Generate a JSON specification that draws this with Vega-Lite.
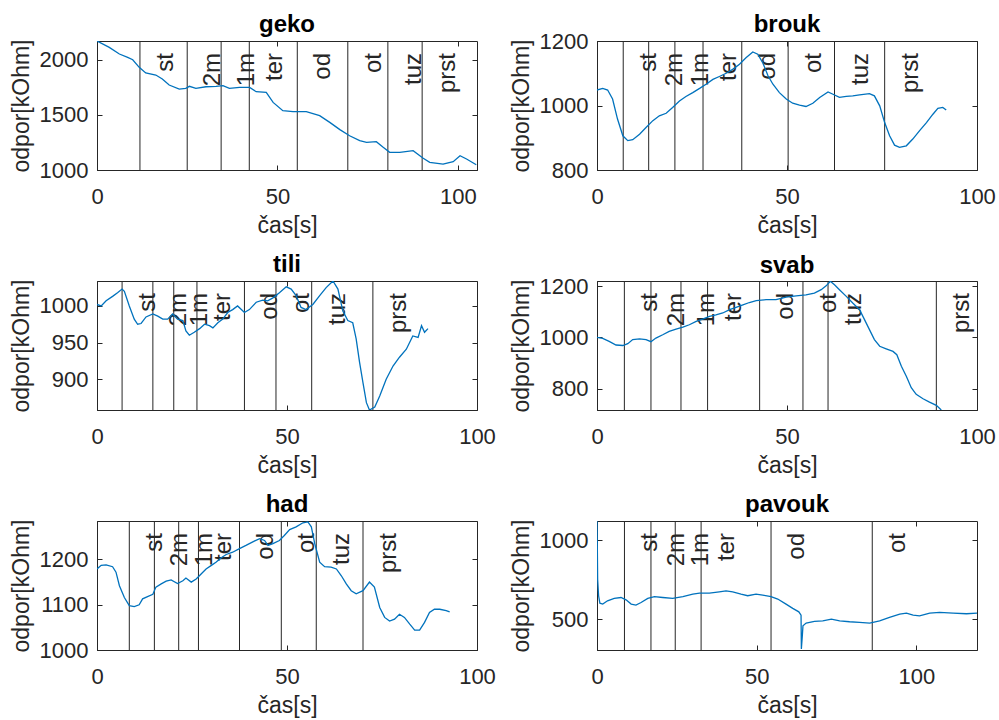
{
  "$schema": "https://vega.github.io/schema/vega-lite/v6.json",
  "autosize": {"type": "none"},
  "padding": {"left": 97, "top": 41, "right": 902, "bottom": 679},
  "background": "white",
  "config": {
    "view": {"stroke": "#262626", "strokeWidth": 1},
    "font": "Liberation Sans",
    "axis": {"grid": false, "labelFont": "Liberation Sans", "labelFontSize": 22, "labelColor": "#262626", "titleFont": "Liberation Sans", "titleFontSize": 23, "titleFontWeight": "normal", "titleColor": "#262626", "domainColor": "#262626", "tickColor": "#262626", "tickSize": -5, "labelOverlap": false, "labelFlush": false, "format": "d"},
    "axisX": {"labelPadding": 21, "titlePadding": 7},
    "axisY": {"labelPadding": 14, "titlePadding": 6},
    "title": {"font": "Liberation Sans", "fontSize": 24, "fontWeight": "bold", "color": "#000000", "offset": 2}
  },
  "datasets": {
    "geko": [{"t":0,"r":2170},{"t":3.4,"r":2112},{"t":6.2,"r":2052},{"t":8.5,"r":2022},{"t":9.9,"r":2000},{"t":11.7,"r":1931},{"t":13.5,"r":1880},{"t":16.3,"r":1861},{"t":18.1,"r":1825},{"t":20,"r":1771},{"t":22.8,"r":1734},{"t":24.6,"r":1740},{"t":25.6,"r":1759},{"t":27.4,"r":1740},{"t":30.2,"r":1755},{"t":33,"r":1759},{"t":34.9,"r":1766},{"t":36.7,"r":1740},{"t":39.5,"r":1749},{"t":42.3,"r":1749},{"t":44.1,"r":1710},{"t":46.9,"r":1704},{"t":48.8,"r":1613},{"t":51.5,"r":1538},{"t":54.3,"r":1529},{"t":58,"r":1529},{"t":61.7,"r":1493},{"t":64.5,"r":1432},{"t":67.3,"r":1366},{"t":70,"r":1311},{"t":72.8,"r":1266},{"t":74.7,"r":1251},{"t":77.4,"r":1257},{"t":79.3,"r":1206},{"t":81.1,"r":1160},{"t":83.9,"r":1160},{"t":87.6,"r":1175},{"t":90.4,"r":1106},{"t":92.2,"r":1070},{"t":95.9,"r":1054},{"t":98.7,"r":1075},{"t":100.6,"r":1130},{"t":102.4,"r":1100},{"t":105.1,"r":1048}],
    "geko_lines": [{"t":11.9,"label":"st"},{"t":25.0,"label":"2m"},{"t":34.4,"label":"1m"},{"t":42.2,"label":"ter"},{"t":55.5,"label":"od"},{"t":69.5,"label":"ot"},{"t":80.6,"label":"tuz"},{"t":90.1,"label":"prst"}],
    "brouk": [{"t":0,"r":1048},{"t":1.5,"r":1053},{"t":2.8,"r":1048},{"t":4.1,"r":1020},{"t":5.4,"r":958},{"t":6.8,"r":906},{"t":8.1,"r":891},{"t":9.4,"r":894},{"t":11.2,"r":911},{"t":12.9,"r":932},{"t":14.7,"r":953},{"t":16.4,"r":968},{"t":18.2,"r":976},{"t":19.9,"r":994},{"t":21.7,"r":1014},{"t":23.4,"r":1028},{"t":25.2,"r":1040},{"t":27,"r":1053},{"t":28.7,"r":1066},{"t":30.5,"r":1081},{"t":32.2,"r":1090},{"t":34,"r":1100},{"t":35.7,"r":1112},{"t":37.5,"r":1128},{"t":39.2,"r":1148},{"t":41,"r":1166},{"t":42.3,"r":1159},{"t":43.6,"r":1133},{"t":45,"r":1092},{"t":46.3,"r":1066},{"t":48,"r":1040},{"t":49.8,"r":1020},{"t":51.5,"r":1007},{"t":53.3,"r":1001},{"t":55,"r":997},{"t":56.8,"r":1007},{"t":58.6,"r":1025},{"t":60.8,"r":1042},{"t":62.1,"r":1035},{"t":63.8,"r":1025},{"t":65.6,"r":1028},{"t":67.3,"r":1030},{"t":69.1,"r":1033},{"t":71.7,"r":1037},{"t":73,"r":1030},{"t":74.4,"r":999},{"t":75.7,"r":947},{"t":77,"r":906},{"t":78.3,"r":877},{"t":79.6,"r":870},{"t":81.4,"r":875},{"t":83.1,"r":896},{"t":84.9,"r":922},{"t":86.7,"r":947},{"t":88.4,"r":973},{"t":89.7,"r":991},{"t":91,"r":994},{"t":91.9,"r":986}],
    "brouk_lines": [{"t":6.9,"label":"st"},{"t":13.6,"label":"2m"},{"t":20.5,"label":"1m"},{"t":27.9,"label":"ter"},{"t":38.1,"label":"od"},{"t":50.3,"label":"ot"},{"t":62.5,"label":"tuz"},{"t":75.7,"label":"prst"}],
    "tili": [{"t":0,"r":1002},{"t":1.1,"r":1000},{"t":2.4,"r":1007},{"t":4.1,"r":1013},{"t":5.4,"r":1018},{"t":6.6,"r":1023},{"t":7.2,"r":1020},{"t":8.5,"r":1000},{"t":9.8,"r":982},{"t":10.7,"r":975},{"t":11.6,"r":976},{"t":12.9,"r":985},{"t":14.7,"r":989},{"t":16,"r":986},{"t":17.3,"r":982},{"t":18.6,"r":982},{"t":19.9,"r":989},{"t":21.2,"r":982},{"t":22.6,"r":980},{"t":23.4,"r":966},{"t":24.3,"r":960},{"t":25.6,"r":964},{"t":27,"r":969},{"t":28.3,"r":975},{"t":29.6,"r":973},{"t":30.5,"r":970},{"t":31.8,"r":977},{"t":33.1,"r":982},{"t":34.4,"r":991},{"t":35.7,"r":995},{"t":37,"r":1000},{"t":38.8,"r":991},{"t":40.1,"r":995},{"t":41.9,"r":1005},{"t":43.6,"r":1008},{"t":44.9,"r":1007},{"t":46.3,"r":1011},{"t":48,"r":1018},{"t":49.8,"r":1026},{"t":51.1,"r":1023},{"t":52.4,"r":1014},{"t":53.7,"r":998},{"t":55,"r":995},{"t":56.8,"r":1002},{"t":58.6,"r":1014},{"t":60.3,"r":1025},{"t":62.1,"r":1034},{"t":63.4,"r":1023},{"t":64.7,"r":993},{"t":66,"r":980},{"t":67.3,"r":977},{"t":68.2,"r":955},{"t":69.1,"r":923},{"t":70,"r":895},{"t":70.9,"r":868},{"t":71.7,"r":858},{"t":73.1,"r":862},{"t":74.4,"r":877},{"t":76.1,"r":900},{"t":77.9,"r":918},{"t":79.6,"r":930},{"t":81.4,"r":941},{"t":83.1,"r":959},{"t":84.5,"r":957},{"t":85.4,"r":973},{"t":86.2,"r":964},{"t":87.1,"r":969}],
    "tili_lines": [{"t":6.6,"label":"st"},{"t":14.7,"label":"2m"},{"t":20.2,"label":"1m"},{"t":26.3,"label":"ter"},{"t":38.8,"label":"od"},{"t":47.1,"label":"ot"},{"t":56.5,"label":"tuz"},{"t":72.6,"label":"prst"}],
    "svab": [{"t":0,"r":1000},{"t":1.5,"r":996},{"t":3.2,"r":984},{"t":5,"r":970},{"t":6.8,"r":968},{"t":8.1,"r":975},{"t":9.4,"r":991},{"t":11.2,"r":994},{"t":12.9,"r":991},{"t":14.2,"r":983},{"t":15.5,"r":997},{"t":17.3,"r":1010},{"t":19,"r":1023},{"t":20.8,"r":1032},{"t":22.6,"r":1040},{"t":24.3,"r":1049},{"t":26.1,"r":1062},{"t":27.8,"r":1071},{"t":29.6,"r":1082},{"t":31.3,"r":1088},{"t":33.1,"r":1095},{"t":34.9,"r":1108},{"t":36.6,"r":1117},{"t":38.4,"r":1127},{"t":40.1,"r":1136},{"t":41.9,"r":1143},{"t":44.5,"r":1147},{"t":47.1,"r":1147},{"t":49.8,"r":1157},{"t":52.4,"r":1162},{"t":55,"r":1166},{"t":57.2,"r":1173},{"t":59,"r":1186},{"t":60.3,"r":1201},{"t":61.4,"r":1219},{"t":62.5,"r":1205},{"t":63.8,"r":1186},{"t":65.6,"r":1160},{"t":67.3,"r":1134},{"t":69.1,"r":1108},{"t":70.4,"r":1069},{"t":71.7,"r":1030},{"t":73,"r":991},{"t":74.4,"r":965},{"t":76.1,"r":955},{"t":77.9,"r":945},{"t":78.9,"r":932},{"t":80.1,"r":887},{"t":81.4,"r":848},{"t":82.7,"r":803},{"t":84,"r":777},{"t":85.8,"r":760},{"t":87.5,"r":747},{"t":89.3,"r":734},{"t":90.6,"r":716}],
    "svab_lines": [{"t":7.2,"label":"st"},{"t":14.2,"label":"2m"},{"t":22.1,"label":"1m"},{"t":29.1,"label":"ter"},{"t":42.8,"label":"od"},{"t":54.2,"label":"ot"},{"t":60.8,"label":"tuz"},{"t":89.3,"label":"prst"}],
    "had": [{"t":0,"r":1179},{"t":1.1,"r":1187},{"t":2.4,"r":1188},{"t":4.1,"r":1184},{"t":5,"r":1172},{"t":5.9,"r":1142},{"t":7.2,"r":1116},{"t":8.5,"r":1098},{"t":9.8,"r":1096},{"t":11.1,"r":1100},{"t":12,"r":1113},{"t":13.3,"r":1118},{"t":14.7,"r":1123},{"t":15.5,"r":1139},{"t":16.9,"r":1146},{"t":18.2,"r":1152},{"t":19.5,"r":1155},{"t":21.2,"r":1147},{"t":22.6,"r":1153},{"t":23.4,"r":1159},{"t":24.8,"r":1150},{"t":26.1,"r":1157},{"t":27.4,"r":1168},{"t":28.7,"r":1179},{"t":30.1,"r":1187},{"t":31.3,"r":1194},{"t":32.7,"r":1204},{"t":34,"r":1211},{"t":35.7,"r":1216},{"t":37.5,"r":1224},{"t":39.2,"r":1231},{"t":41,"r":1239},{"t":42.8,"r":1246},{"t":44.1,"r":1242},{"t":45,"r":1231},{"t":46.3,"r":1235},{"t":48,"r":1242},{"t":49.3,"r":1253},{"t":50.7,"r":1266},{"t":52.4,"r":1272},{"t":54.2,"r":1281},{"t":55.5,"r":1283},{"t":56.4,"r":1272},{"t":57.3,"r":1235},{"t":58.6,"r":1194},{"t":59.9,"r":1184},{"t":61.6,"r":1183},{"t":63,"r":1179},{"t":64.3,"r":1164},{"t":65.6,"r":1146},{"t":66.9,"r":1131},{"t":68.2,"r":1124},{"t":70,"r":1131},{"t":71.7,"r":1150},{"t":73,"r":1139},{"t":74.4,"r":1094},{"t":75.7,"r":1072},{"t":77,"r":1064},{"t":78.3,"r":1068},{"t":79.6,"r":1079},{"t":80.9,"r":1072},{"t":82.3,"r":1057},{"t":83.6,"r":1044},{"t":84.9,"r":1044},{"t":86.2,"r":1061},{"t":87.5,"r":1083},{"t":88.8,"r":1090},{"t":90.2,"r":1090},{"t":91.9,"r":1087},{"t":92.8,"r":1084}],
    "had_lines": [{"t":8.5,"label":"st"},{"t":15.1,"label":"2m"},{"t":21.5,"label":"1m"},{"t":26.7,"label":"ter"},{"t":37.5,"label":"od"},{"t":48.5,"label":"ot"},{"t":57.7,"label":"tuz"},{"t":70,"label":"prst"}],
    "pavouk": [{"t":0,"r":1122},{"t":0.1,"r":964},{"t":0.2,"r":753},{"t":0.5,"r":648},{"t":0.9,"r":601},{"t":1.8,"r":595},{"t":3.3,"r":616},{"t":5.4,"r":631},{"t":7.5,"r":637},{"t":9.1,"r":622},{"t":10.7,"r":595},{"t":12.2,"r":589},{"t":13.8,"r":605},{"t":15.9,"r":631},{"t":18,"r":643},{"t":20.6,"r":637},{"t":23.7,"r":631},{"t":26.9,"r":643},{"t":30,"r":658},{"t":32.1,"r":665},{"t":35.2,"r":665},{"t":38.3,"r":673},{"t":40.4,"r":679},{"t":42.5,"r":673},{"t":45.1,"r":658},{"t":47.2,"r":648},{"t":49.8,"r":658},{"t":51.9,"r":652},{"t":54.5,"r":643},{"t":56.6,"r":627},{"t":59.2,"r":595},{"t":61.3,"r":568},{"t":63.2,"r":546},{"t":63.9,"r":525},{"t":64,"r":310},{"t":64.3,"r":394},{"t":64.5,"r":458},{"t":65.5,"r":475},{"t":68.1,"r":485},{"t":70.7,"r":489},{"t":73.4,"r":500},{"t":76,"r":489},{"t":79.1,"r":483},{"t":82.2,"r":479},{"t":85.4,"r":475},{"t":88.5,"r":489},{"t":91.6,"r":511},{"t":94.8,"r":532},{"t":96.9,"r":538},{"t":99,"r":525},{"t":101,"r":521},{"t":104.2,"r":538},{"t":107.3,"r":542},{"t":111.5,"r":538},{"t":115.7,"r":534},{"t":119,"r":538}],
    "pavouk_lines": [{"t":8.6,"label":"st"},{"t":16.9,"label":"2m"},{"t":24.5,"label":"1m"},{"t":32.6,"label":"ter"},{"t":54.5,"label":"od"},{"t":86.2,"label":"ot"}]
  },
  "columns": 2,
  "spacing": {"row": 111, "column": 120},
  "bounds": "flush",
  "concat": [
    {"title": {"text": "geko", "offset": 2}, "width": 380, "height": 129,
     "resolve": {"axis": {"x": "independent", "y": "independent"}},
     "layer": [
      {"data": {"name": "geko_lines"}, "mark": {"type": "rule", "color": "#262626", "strokeWidth": 1}, "encoding": {"x": {"field": "t", "type": "quantitative", "scale": {"domain": [0, 105.3], "nice": false, "zero": false}, "axis": {"values": [0, 50, 100], "title": "čas[s]"}}}},
      {"data": {"name": "geko_lines"}, "mark": {"type": "text", "angle": 270, "align": "right", "baseline": "middle", "dx": -12, "dy": 26, "fontSize": 24, "font": "Liberation Sans", "color": "#262626"}, "encoding": {"x": {"field": "t", "type": "quantitative", "axis": {"orient": "top", "labels": false, "title": null, "domain": false, "values": [0, 50, 100]}}, "y": {"datum": 2170, "type": "quantitative", "scale": {"domain": [1000, 2170], "nice": false, "zero": false}, "axis": {"orient": "right", "labels": false, "title": null, "domain": false, "values": [1000, 1500, 2000]}}, "text": {"field": "label"}}},
      {"data": {"name": "geko"}, "mark": {"type": "line", "color": "#0072BD", "strokeWidth": 1.3, "clip": true}, "encoding": {"x": {"field": "t", "type": "quantitative", "axis": null}, "y": {"field": "r", "type": "quantitative", "scale": {"domain": [1000, 2170], "nice": false, "zero": false}, "axis": {"values": [1000, 1500, 2000], "title": "odpor[kOhm]"}}}}
     ]},
    {"title": {"text": "brouk", "offset": -7}, "width": 380, "height": 129,
     "resolve": {"axis": {"x": "independent", "y": "independent"}},
     "layer": [
      {"data": {"name": "brouk_lines"}, "mark": {"type": "rule", "color": "#262626", "strokeWidth": 1}, "encoding": {"x": {"field": "t", "type": "quantitative", "scale": {"domain": [0, 100], "nice": false, "zero": false}, "axis": {"values": [0, 50, 100], "title": "čas[s]"}}}},
      {"data": {"name": "brouk_lines"}, "mark": {"type": "text", "angle": 270, "align": "right", "baseline": "middle", "dx": -12, "dy": 26, "fontSize": 24, "font": "Liberation Sans", "color": "#262626"}, "encoding": {"x": {"field": "t", "type": "quantitative", "axis": {"orient": "top", "labels": false, "title": null, "domain": false, "values": [0, 50, 100]}}, "y": {"datum": 1200, "type": "quantitative", "scale": {"domain": [800, 1200], "nice": false, "zero": false}, "axis": {"orient": "right", "labels": false, "title": null, "domain": false, "values": [800, 1000, 1200]}}, "text": {"field": "label"}}},
      {"data": {"name": "brouk"}, "mark": {"type": "line", "color": "#0072BD", "strokeWidth": 1.3, "clip": true}, "encoding": {"x": {"field": "t", "type": "quantitative", "axis": null}, "y": {"field": "r", "type": "quantitative", "scale": {"domain": [800, 1200], "nice": false, "zero": false}, "axis": {"values": [800, 1000, 1200], "title": "odpor[kOhm]"}}}}
     ]},
    {"title": {"text": "tili", "offset": 2}, "width": 380, "height": 129,
     "resolve": {"axis": {"x": "independent", "y": "independent"}},
     "layer": [
      {"data": {"name": "tili_lines"}, "mark": {"type": "rule", "color": "#262626", "strokeWidth": 1}, "encoding": {"x": {"field": "t", "type": "quantitative", "scale": {"domain": [0, 100], "nice": false, "zero": false}, "axis": {"values": [0, 50, 100], "title": "čas[s]"}}}},
      {"data": {"name": "tili_lines"}, "mark": {"type": "text", "angle": 270, "align": "right", "baseline": "middle", "dx": -12, "dy": 26, "fontSize": 24, "font": "Liberation Sans", "color": "#262626"}, "encoding": {"x": {"field": "t", "type": "quantitative", "axis": {"orient": "top", "labels": false, "title": null, "domain": false, "values": [0, 50, 100]}}, "y": {"datum": 1034, "type": "quantitative", "scale": {"domain": [858, 1034], "nice": false, "zero": false}, "axis": {"orient": "right", "labels": false, "title": null, "domain": false, "values": [900, 950, 1000]}}, "text": {"field": "label"}}},
      {"data": {"name": "tili"}, "mark": {"type": "line", "color": "#0072BD", "strokeWidth": 1.3, "clip": true}, "encoding": {"x": {"field": "t", "type": "quantitative", "axis": null}, "y": {"field": "r", "type": "quantitative", "scale": {"domain": [858, 1034], "nice": false, "zero": false}, "axis": {"values": [900, 950, 1000], "title": "odpor[kOhm]"}}}}
     ]},
    {"title": {"text": "svab", "offset": -3}, "width": 380, "height": 129,
     "resolve": {"axis": {"x": "independent", "y": "independent"}},
     "layer": [
      {"data": {"name": "svab_lines"}, "mark": {"type": "rule", "color": "#262626", "strokeWidth": 1}, "encoding": {"x": {"field": "t", "type": "quantitative", "scale": {"domain": [0, 100], "nice": false, "zero": false}, "axis": {"values": [0, 50, 100], "title": "čas[s]"}}}},
      {"data": {"name": "svab_lines"}, "mark": {"type": "text", "angle": 270, "align": "right", "baseline": "middle", "dx": -12, "dy": 26, "fontSize": 24, "font": "Liberation Sans", "color": "#262626"}, "encoding": {"x": {"field": "t", "type": "quantitative", "axis": {"orient": "top", "labels": false, "title": null, "domain": false, "values": [0, 50, 100]}}, "y": {"datum": 1220, "type": "quantitative", "scale": {"domain": [716, 1220], "nice": false, "zero": false}, "axis": {"orient": "right", "labels": false, "title": null, "domain": false, "values": [800, 1000, 1200]}}, "text": {"field": "label"}}},
      {"data": {"name": "svab"}, "mark": {"type": "line", "color": "#0072BD", "strokeWidth": 1.3, "clip": true}, "encoding": {"x": {"field": "t", "type": "quantitative", "axis": null}, "y": {"field": "r", "type": "quantitative", "scale": {"domain": [716, 1220], "nice": false, "zero": false}, "axis": {"values": [800, 1000, 1200], "title": "odpor[kOhm]"}}}}
     ]},
    {"title": {"text": "had", "offset": 2}, "width": 380, "height": 129,
     "resolve": {"axis": {"x": "independent", "y": "independent"}},
     "layer": [
      {"data": {"name": "had_lines"}, "mark": {"type": "rule", "color": "#262626", "strokeWidth": 1}, "encoding": {"x": {"field": "t", "type": "quantitative", "scale": {"domain": [0, 100], "nice": false, "zero": false}, "axis": {"values": [0, 50, 100], "title": "čas[s]"}}}},
      {"data": {"name": "had_lines"}, "mark": {"type": "text", "angle": 270, "align": "right", "baseline": "middle", "dx": -12, "dy": 26, "fontSize": 24, "font": "Liberation Sans", "color": "#262626"}, "encoding": {"x": {"field": "t", "type": "quantitative", "axis": {"orient": "top", "labels": false, "title": null, "domain": false, "values": [0, 50, 100]}}, "y": {"datum": 1285, "type": "quantitative", "scale": {"domain": [1000, 1285], "nice": false, "zero": false}, "axis": {"orient": "right", "labels": false, "title": null, "domain": false, "values": [1000, 1100, 1200]}}, "text": {"field": "label"}}},
      {"data": {"name": "had"}, "mark": {"type": "line", "color": "#0072BD", "strokeWidth": 1.3, "clip": true}, "encoding": {"x": {"field": "t", "type": "quantitative", "axis": null}, "y": {"field": "r", "type": "quantitative", "scale": {"domain": [1000, 1285], "nice": false, "zero": false}, "axis": {"values": [1000, 1100, 1200], "title": "odpor[kOhm]"}}}}
     ]},
    {"title": {"text": "pavouk", "offset": 2}, "width": 380, "height": 129,
     "resolve": {"axis": {"x": "independent", "y": "independent"}},
     "layer": [
      {"data": {"name": "pavouk_lines"}, "mark": {"type": "rule", "color": "#262626", "strokeWidth": 1}, "encoding": {"x": {"field": "t", "type": "quantitative", "scale": {"domain": [0, 119], "nice": false, "zero": false}, "axis": {"values": [0, 50, 100], "title": "čas[s]"}}}},
      {"data": {"name": "pavouk_lines"}, "mark": {"type": "text", "angle": 270, "align": "right", "baseline": "middle", "dx": -12, "dy": 26, "fontSize": 24, "font": "Liberation Sans", "color": "#262626"}, "encoding": {"x": {"field": "t", "type": "quantitative", "axis": {"orient": "top", "labels": false, "title": null, "domain": false, "values": [0, 50, 100]}}, "y": {"datum": 1122, "type": "quantitative", "scale": {"domain": [304, 1122], "nice": false, "zero": false}, "axis": {"orient": "right", "labels": false, "title": null, "domain": false, "values": [500, 1000]}}, "text": {"field": "label"}}},
      {"data": {"name": "pavouk"}, "mark": {"type": "line", "color": "#0072BD", "strokeWidth": 1.3, "clip": true}, "encoding": {"x": {"field": "t", "type": "quantitative", "axis": null}, "y": {"field": "r", "type": "quantitative", "scale": {"domain": [304, 1122], "nice": false, "zero": false}, "axis": {"values": [500, 1000], "title": "odpor[kOhm]"}}}}
     ]}
  ]
}
